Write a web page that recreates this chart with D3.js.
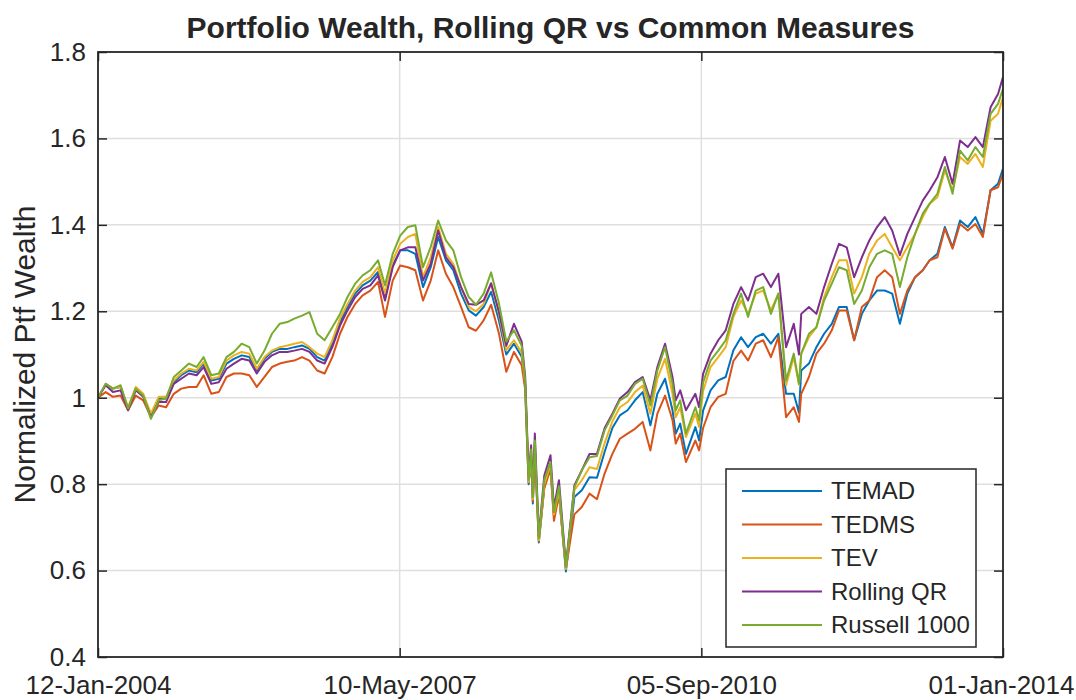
<!DOCTYPE html>
<html>
<head>
<meta charset="utf-8">
<script src="https://cdn.jsdelivr.net/npm/d3@7"></script>
<style>
  body { margin: 0; background: #fff; }
  svg text { font-family: "Liberation Sans", Arial, Helvetica, sans-serif; fill: #262626; }
</style>
</head>
<body>
<div id="chart"></div>
<script>
// sample dates (monthly, plus a few extra days around the big swings)
const dates = [
  "2004-01-12","2004-02-12","2004-03-12","2004-04-12","2004-05-12","2004-06-12","2004-07-12","2004-08-12","2004-09-12","2004-10-12","2004-11-12","2004-12-12",
  "2005-01-12","2005-02-12","2005-03-12","2005-04-12","2005-05-12","2005-06-12","2005-07-12","2005-08-12","2005-09-12","2005-10-12","2005-11-12","2005-12-12",
  "2006-01-12","2006-02-12","2006-03-12","2006-04-12","2006-05-12","2006-06-12","2006-07-12","2006-08-12","2006-09-12","2006-10-12","2006-11-12","2006-12-12",
  "2007-01-12","2007-02-12","2007-03-12","2007-04-12","2007-05-12","2007-06-12","2007-07-12","2007-08-12","2007-09-12","2007-10-12","2007-11-12","2007-12-12",
  "2008-01-12","2008-02-12","2008-03-12","2008-04-12","2008-05-12","2008-06-12","2008-07-12","2008-08-12","2008-09-12","2008-09-26","2008-10-10","2008-10-20","2008-10-27","2008-11-04","2008-11-20","2008-12-12",
  "2009-01-06","2009-01-20","2009-02-09","2009-03-09","2009-04-12","2009-05-12","2009-06-12","2009-07-12","2009-08-12","2009-09-12","2009-10-12","2009-11-12","2009-12-12",
  "2010-01-12","2010-02-12","2010-03-12","2010-04-12","2010-05-12","2010-05-25","2010-06-12","2010-07-05","2010-08-12","2010-08-27","2010-09-12","2010-10-12","2010-11-12","2010-12-12",
  "2011-01-12","2011-02-12","2011-03-12","2011-04-12","2011-05-12","2011-06-12","2011-07-12","2011-08-12","2011-09-12","2011-10-03","2011-10-12","2011-11-12","2011-12-12",
  "2012-01-12","2012-02-12","2012-03-12","2012-04-12","2012-05-12","2012-06-12","2012-07-12","2012-08-12","2012-09-12","2012-10-12","2012-11-12","2012-12-12",
  "2013-01-12","2013-02-12","2013-03-12","2013-04-12","2013-05-12","2013-06-12","2013-07-12","2013-08-12","2013-09-12","2013-10-12","2013-11-12","2013-12-12",
  "2014-01-01"
];

const temad = [
  1.000, 1.032, 1.021, 1.025, 0.975, 1.021, 1.005, 0.959, 0.998, 0.998, 1.036, 1.052,
  1.063, 1.059, 1.079, 1.040, 1.044, 1.079, 1.090, 1.098, 1.094, 1.063, 1.090, 1.106,
  1.113, 1.113, 1.117, 1.121, 1.113, 1.094, 1.086, 1.125, 1.175, 1.210, 1.241, 1.260,
  1.271, 1.291, 1.233, 1.306, 1.341, 1.341, 1.333, 1.256, 1.302, 1.372, 1.318, 1.295,
  1.241, 1.202, 1.190, 1.210, 1.245, 1.180, 1.100, 1.125, 1.095, 1.030, 0.800, 0.865, 0.755, 0.886, 0.665, 0.795,
  0.840, 0.725, 0.780, 0.598, 0.770, 0.786, 0.816, 0.815, 0.875, 0.930, 0.959, 0.971, 0.994,
  1.013, 0.936, 1.009, 1.044, 0.971, 0.917, 0.940, 0.870, 0.932, 0.901, 0.970, 1.017, 1.040, 1.048,
  1.110, 1.140, 1.117, 1.140, 1.148, 1.125, 1.148, 1.009, 1.009, 0.965, 1.063, 1.079, 1.117,
  1.148, 1.171, 1.210, 1.210, 1.133, 1.194, 1.225, 1.248, 1.248, 1.241, 1.171, 1.241,
  1.279, 1.295, 1.318, 1.333, 1.395, 1.348, 1.410, 1.395, 1.418, 1.379, 1.480, 1.495,
  1.530
];

const tedms = [
  1.000, 1.013, 1.002, 1.005, 0.971, 1.005, 0.994, 0.955, 0.982, 0.978, 1.009, 1.021,
  1.025, 1.025, 1.052, 1.009, 1.013, 1.048, 1.056, 1.056, 1.052, 1.025, 1.048, 1.071,
  1.079, 1.083, 1.086, 1.094, 1.086, 1.063, 1.056, 1.094, 1.148, 1.187, 1.217, 1.237,
  1.248, 1.268, 1.187, 1.271, 1.306, 1.302, 1.295, 1.225, 1.271, 1.341, 1.287, 1.256,
  1.210, 1.163, 1.155, 1.179, 1.215, 1.150, 1.060, 1.106, 1.075, 1.020, 0.805, 0.860, 0.760, 0.878, 0.668, 0.790,
  0.835, 0.715, 0.775, 0.604, 0.730, 0.747, 0.778, 0.765, 0.825, 0.870, 0.905, 0.917, 0.928,
  0.944, 0.878, 0.963, 1.005, 0.948, 0.894, 0.917, 0.851, 0.901, 0.878, 0.930, 0.978, 1.002, 1.009,
  1.085, 1.109, 1.086, 1.125, 1.133, 1.094, 1.140, 0.955, 0.978, 0.944, 1.009, 1.048, 1.102,
  1.125, 1.156, 1.202, 1.202, 1.133, 1.210, 1.225, 1.279, 1.295, 1.279, 1.194, 1.248,
  1.279, 1.295, 1.318, 1.325, 1.391, 1.345, 1.402, 1.387, 1.402, 1.372, 1.480, 1.487,
  1.518
];

const tev = [
  1.000, 1.032, 1.021, 1.025, 0.978, 1.025, 1.009, 0.963, 1.002, 1.002, 1.040, 1.056,
  1.067, 1.063, 1.083, 1.044, 1.048, 1.086, 1.098, 1.106, 1.102, 1.067, 1.094, 1.109,
  1.117, 1.121, 1.125, 1.129, 1.117, 1.102, 1.094, 1.133, 1.183, 1.217, 1.248, 1.268,
  1.279, 1.302, 1.241, 1.318, 1.356, 1.372, 1.379, 1.279, 1.325, 1.395, 1.333, 1.310,
  1.256, 1.210, 1.200, 1.217, 1.264, 1.195, 1.110, 1.133, 1.105, 1.035, 0.805, 0.870, 0.765, 0.893, 0.670, 0.800,
  0.845, 0.730, 0.785, 0.604, 0.786, 0.809, 0.839, 0.835, 0.895, 0.945, 0.978, 0.990, 1.013,
  1.028, 0.963, 1.044, 1.090, 1.009, 0.955, 0.978, 0.909, 0.963, 0.932, 1.015, 1.071, 1.094, 1.117,
  1.187, 1.225, 1.194, 1.241, 1.248, 1.202, 1.241, 1.029, 1.094, 1.030, 1.102, 1.140, 1.163,
  1.233, 1.279, 1.318, 1.318, 1.241, 1.279, 1.333, 1.364, 1.379, 1.348, 1.318, 1.348,
  1.379, 1.418, 1.449, 1.464, 1.526, 1.480, 1.557, 1.541, 1.564, 1.534, 1.641, 1.657,
  1.695
];

const rollingQR = [
  1.000, 1.029, 1.013, 1.017, 0.971, 1.017, 1.002, 0.955, 0.990, 0.990, 1.032, 1.044,
  1.056, 1.052, 1.071, 1.032, 1.036, 1.067, 1.079, 1.090, 1.086, 1.056, 1.083, 1.098,
  1.106, 1.106, 1.109, 1.113, 1.106, 1.086, 1.079, 1.117, 1.167, 1.202, 1.233, 1.252,
  1.260, 1.283, 1.225, 1.302, 1.341, 1.348, 1.348, 1.271, 1.310, 1.387, 1.325, 1.302,
  1.256, 1.217, 1.215, 1.225, 1.265, 1.200, 1.120, 1.171, 1.130, 1.050, 0.820, 0.890, 0.780, 0.917, 0.680, 0.820,
  0.867, 0.745, 0.809, 0.612, 0.797, 0.832, 0.870, 0.870, 0.930, 0.963, 0.998, 1.013, 1.036,
  1.048, 0.994, 1.071, 1.125, 1.048, 0.994, 1.017, 0.971, 1.009, 0.978, 1.055, 1.102, 1.133, 1.156,
  1.217, 1.256, 1.225, 1.279, 1.287, 1.256, 1.287, 1.117, 1.171, 1.100, 1.194, 1.210, 1.194,
  1.256, 1.310, 1.356, 1.348, 1.279, 1.325, 1.364, 1.395, 1.418, 1.387, 1.330, 1.379,
  1.418, 1.456, 1.480, 1.510, 1.557, 1.495, 1.595, 1.580, 1.603, 1.580, 1.672, 1.703,
  1.742
];

const russell1000 = [
  1.000, 1.032, 1.021, 1.029, 0.975, 1.021, 1.005, 0.951, 0.994, 0.998, 1.048, 1.063,
  1.079, 1.071, 1.094, 1.052, 1.056, 1.094, 1.106, 1.125, 1.117, 1.079, 1.109, 1.148,
  1.171, 1.175, 1.183, 1.190, 1.198, 1.148, 1.133, 1.163, 1.194, 1.233, 1.264, 1.283,
  1.295, 1.318, 1.260, 1.333, 1.375, 1.395, 1.399, 1.302, 1.349, 1.410, 1.364, 1.341,
  1.279, 1.233, 1.215, 1.241, 1.290, 1.220, 1.130, 1.156, 1.120, 1.040, 0.810, 0.880, 0.770, 0.901, 0.675, 0.810,
  0.851, 0.735, 0.795, 0.608, 0.793, 0.832, 0.862, 0.865, 0.925, 0.959, 0.994, 1.005, 1.032,
  1.044, 0.982, 1.063, 1.117, 1.032, 0.971, 0.994, 0.917, 0.978, 0.948, 1.035, 1.086, 1.109, 1.133,
  1.194, 1.241, 1.187, 1.248, 1.256, 1.194, 1.241, 1.040, 1.102, 1.032, 1.102, 1.148, 1.163,
  1.225, 1.264, 1.302, 1.295, 1.217, 1.248, 1.302, 1.333, 1.341, 1.333, 1.256, 1.325,
  1.379, 1.426, 1.449, 1.472, 1.534, 1.472, 1.572, 1.549, 1.580, 1.557, 1.657, 1.680,
  1.715
];

const seriesNames = ["TEMAD", "TEDMS", "TEV", "Rolling QR", "Russell 1000"];
const seriesColors = ["#0072BD", "#D95319", "#EDB120", "#7E2F8E", "#77AC30"];
const xTickDates = ["2004-01-12", "2007-05-10", "2010-09-05", "2014-01-01"];
const xTickLabels = ["12-Jan-2004", "10-May-2007", "05-Sep-2010", "01-Jan-2014"];
const yTicks = [0.4, 0.6, 0.8, 1.0, 1.2, 1.4, 1.6, 1.8];

const W = 1076, H = 700;
const margin = {top: 52, right: 73, bottom: 43, left: 98};
const width = W - margin.left - margin.right;
const height = H - margin.top - margin.bottom;
const axisColor = "#262626";

const parseDate = d3.timeParse("%Y-%m-%d");
const dateObjs = dates.map(parseDate);
const allSeries = [temad, tedms, tev, rollingQR, russell1000].map((vals, k) => ({
  name: seriesNames[k],
  color: seriesColors[k],
  points: vals.map((v, i) => ({date: dateObjs[i], value: v}))
}));

const svg = d3.select("#chart")
  .append("svg")
  .attr("width", W)
  .attr("height", H);

const g = svg.append("g")
  .attr("transform", `translate(${margin.left}, ${margin.top})`);

const x = d3.scaleTime()
  .domain([parseDate(xTickDates[0]), parseDate(xTickDates[xTickDates.length - 1])])
  .range([0, width]);

const y = d3.scaleLinear()
  .domain([0.4, 1.8])
  .range([height, 0]);

// grid
g.append("g")
  .selectAll("line")
  .data(xTickDates.slice(1, -1).map(parseDate))
  .join("line")
    .attr("x1", d => x(d)).attr("x2", d => x(d))
    .attr("y1", 0).attr("y2", height)
    .attr("stroke", "#dfdfdf").attr("stroke-width", 1.5);

g.append("g")
  .selectAll("line")
  .data(yTicks.slice(1, -1))
  .join("line")
    .attr("x1", 0).attr("x2", width)
    .attr("y1", d => y(d)).attr("y2", d => y(d))
    .attr("stroke", "#dfdfdf").attr("stroke-width", 1.5);

// lines
g.append("clipPath").attr("id", "clip")
  .append("rect").attr("width", width).attr("height", height);

const line = d3.line()
  .x(d => x(d.date))
  .y(d => y(d.value));

g.append("g")
  .attr("clip-path", "url(#clip)")
  .selectAll("path")
  .data(allSeries)
  .join("path")
    .attr("fill", "none")
    .attr("stroke", d => d.color)
    .attr("stroke-width", 2)
    .attr("stroke-linejoin", "round")
    .attr("d", d => line(d.points));

// axes (ticks inside, MATLAB style)
const tickVals = xTickDates.map(parseDate);

function styleAxis(sel) {
  sel.select(".domain").remove();
  sel.selectAll(".tick line").attr("stroke", axisColor).attr("stroke-width", 1.5);
  sel.selectAll(".tick text")
    .style("font-size", "26px")
    .style("font-family", "'Liberation Sans', Arial, sans-serif")
    .attr("fill", axisColor);
}

const xAxis = g.append("g")
  .attr("transform", `translate(0, ${height})`)
  .call(d3.axisBottom(x).tickValues(tickVals).tickFormat((d, i) => xTickLabels[i])
    .tickSizeInner(-9).tickSizeOuter(0).tickPadding(19))
  .call(styleAxis);

// keep the last date label inside the page
xAxis.selectAll(".tick text").filter((d, i) => i === xTickLabels.length - 1)
  .attr("text-anchor", "end")
  .attr("x", 71);

g.append("g")
  .call(d3.axisTop(x).tickValues(tickVals).tickFormat("")
    .tickSizeInner(-9).tickSizeOuter(0))
  .call(styleAxis);

g.append("g")
  .call(d3.axisLeft(y).tickValues(yTicks).tickFormat(d3.format("~g"))
    .tickSizeInner(-9).tickSizeOuter(0).tickPadding(12))
  .call(styleAxis);

g.append("g")
  .attr("transform", `translate(${width}, 0)`)
  .call(d3.axisRight(y).tickValues(yTicks).tickFormat("")
    .tickSizeInner(-9).tickSizeOuter(0))
  .call(styleAxis);

// box
g.append("rect")
  .attr("width", width).attr("height", height)
  .attr("fill", "none")
  .attr("stroke", axisColor)
  .attr("stroke-width", 1.8);

// title
svg.append("text")
  .attr("x", margin.left + width / 2)
  .attr("y", 38)
  .attr("text-anchor", "middle")
  .style("font-size", "30px")
  .style("font-weight", "bold")
  .attr("fill", "#000")
  .text("Portfolio Wealth, Rolling QR vs Common Measures");

// y-axis label
svg.append("text")
  .attr("transform", `translate(35, ${margin.top + height / 2}) rotate(-90)`)
  .attr("text-anchor", "middle")
  .style("font-size", "30px")
  .text("Normalized Ptf Wealth");

// legend
const legend = svg.append("g")
  .attr("transform", "translate(726, 469)");

legend.append("rect")
  .attr("width", 250)
  .attr("height", 178)
  .attr("fill", "#fff")
  .attr("stroke", axisColor)
  .attr("stroke-width", 1.5);

const legendEntry = legend.selectAll("g.entry")
  .data(allSeries)
  .join("g")
    .attr("class", "entry")
    .attr("transform", (d, i) => `translate(0, ${22 + i * 33.5})`);

legendEntry.append("line")
  .attr("x1", 16).attr("x2", 96)
  .attr("stroke", d => d.color)
  .attr("stroke-width", 1.8);

legendEntry.append("text")
  .attr("x", 105)
  .attr("dy", "0.35em")
  .style("font-size", "24px")
  .attr("fill", "#000")
  .text(d => d.name);
</script>
</body>
</html>
